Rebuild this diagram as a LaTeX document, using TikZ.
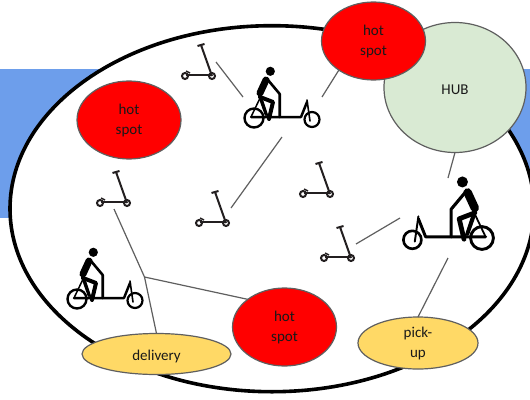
\documentclass[tikz,border=0pt]{standalone}
\usepackage{fontspec}
\setmainfont{Carlito}
\usetikzlibrary{shapes.geometric}
\definecolor{zoneblue}{HTML}{6D9EEB}
\definecolor{hubgreen}{HTML}{D9EAD3}
\definecolor{stopyellow}{HTML}{FFD966}
\definecolor{edgegray}{HTML}{5F5F5F}
\definecolor{scootblack}{HTML}{231F20}
\tikzset{
  place/.style={ellipse,draw=edgegray,line width=1.2pt,inner sep=0pt,outer sep=0pt,align=center,font=\fontsize{15}{20}\selectfont,text=black!90,execute at begin node={\rule{0pt}{15pt}}},
  hotspot/.style={place,fill=red,minimum width=104pt,minimum height=78pt},
  link/.style={draw=edgegray,line width=1.2pt},
  pics/scooter/.style={code={
    \begin{scope}[scootblack,line width=2pt]
    \draw (0,0) circle (3);
    \draw (27,0) circle (3);
    \draw (1,-1)--(26,-1);
    \draw (16,-31)--(27,0);
    \draw (12.5,-30)--(19.5,-32);
    \draw[line width=1.4pt] (1,-5)--(5,-3);
    \end{scope}
  }},
  pics/cargobike/.style={code={
    \begin{scope}[line cap=round,line join=round]
    \draw[line width=#1*2.4pt] (0,0) circle (9.5);
    \draw[line width=#1*2.2pt] (58,1.5) circle (7.5);
    \draw[line width=#1*2.5pt] (-3,-1)--(47,-1)--(53,-16);
    \draw[line width=#1*1.6pt] (53,-18)--(56,3);
    \draw[line width=#1*2.6pt] (25.7,-1)--(25.7,-24)--(14,-38);
    \draw[line width=#1*1.5pt] (-3,-1)--(7,-22)--(14,-1);
    \fill (16.3,-46.7) circle (4.6);
    \draw[line width=#1*7pt] (12,-38)--(6,-25);
    \draw[line width=#1*4pt] (6,-21)--(19,-16)--(15,1);
    \draw[line width=#1*2.5pt] (6,-20)--(12,-3);
    \end{scope}
  }}
}
\begin{document}
\begin{tikzpicture}[x=1pt,y=-1pt]
\useasboundingbox (0,0) rectangle (530,399);
\fill[zoneblue] (0,69) rectangle (530,218);
\node[ellipse,draw,fill=white,line width=3.6pt,minimum width=524pt,minimum height=366pt,inner sep=0pt] (field) at (272,208.7) {};

\node[place,fill=hubgreen,minimum width=142pt,minimum height=130pt] (hub) at (455,87.5) {HUB};
\node[hotspot] (hottop) at (373.5,41) {hot\\spot};
\node[hotspot] (hotleft) at (129,120) {hot\\spot};
\node[hotspot] (hotbottom) at (284.5,327) {hot\\spot};
\node[place,fill=stopyellow,minimum width=149pt,minimum height=41pt] (delivery) at (156.5,354) {delivery};
\node[place,fill=stopyellow,minimum width=120pt,minimum height=52pt] (pickup) at (418,343) {pick-\\up};

\pic at (185,76) {scooter};
\pic at (100,203) {scooter};
\pic at (199,223) {scooter};
\pic at (303,194) {scooter};
\pic at (324,258) {scooter};
\pic at (254,118) {cargobike=1};
\pic at (77,299) {cargobike=1};
\pic[xscale=-1.2,yscale=1.2] at (482,238) {cargobike=1.2};

\coordinate (a1) at (216,62);
\coordinate (a2) at (243,97);
\coordinate (b1) at (322,97);
\coordinate (c1) at (282,137);
\coordinate (c2) at (231,208);
\coordinate (d1) at (448,178);
\coordinate (e1) at (356,244);
\coordinate (e2) at (400,218);
\coordinate (f1) at (448,258);
\coordinate (g1) at (114,209);
\coordinate (fork) at (144.5,277);

\draw[link] (a1)--(a2);
\draw[link] (hottop.220)--(b1);
\draw[link] (c1)--(c2);
\draw[link] (hub.south)--(d1);
\draw[link] (e1)--(e2);
\draw[link] (f1)--(pickup.north);
\draw[link] (g1)--(fork)--(delivery.north);
\draw[link] (fork)--(hotbottom.143);
\end{tikzpicture}
\end{document}
